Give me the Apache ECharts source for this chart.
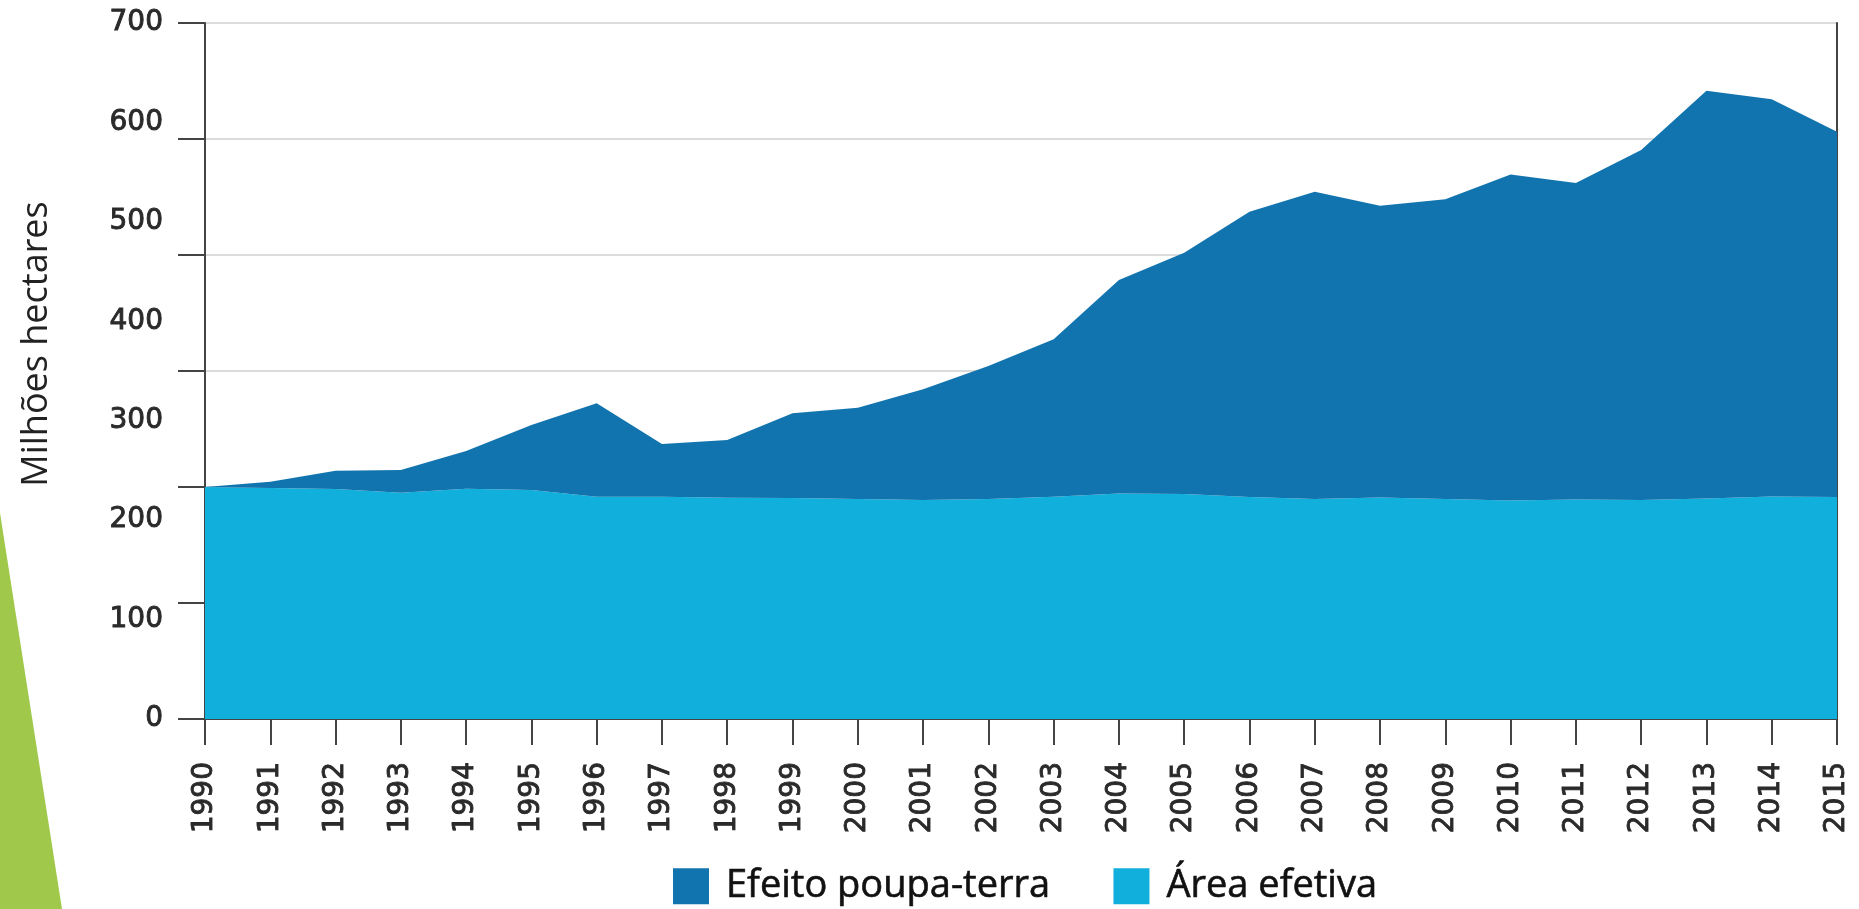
<!DOCTYPE html>
<html>
<head>
<meta charset="utf-8">
<script src="https://cdn.jsdelivr.net/npm/echarts@6/dist/echarts.min.js"></script>
<style>
* {
  margin: 0;
  padding: 0;
}
#chart-container {
  width: 1859px;
  height: 909px;
  background: #fff;
}
</style>
</head>
<body>
<div id="chart-container"></div>
<script>
// anos
const years = ['1990', '1991', '1992', '1993', '1994', '1995', '1996', '1997', '1998', '1999',
  '2000', '2001', '2002', '2003', '2004', '2005', '2006', '2007', '2008', '2009',
  '2010', '2011', '2012', '2013', '2014', '2015']

// área efetiva (camada de baixo)
const areaEfetiva = [200.0, 199.1, 198.3, 195.1, 198.5, 197.4, 191.6, 191.6, 190.8, 190.5,
  189.7, 188.8, 189.7, 191.6, 194.4, 194.0, 191.4, 189.7, 190.9, 189.7,
  188.4, 189.2, 188.8, 190.1, 191.8, 191.4]

// efeito poupa-terra (empilhado em cima)
const efeitoPoupaTerra = [0.0, 5.5, 15.8, 19.6, 32.5, 56.0, 80.6, 45.5, 49.7, 73.0,
  78.7, 95.4, 114.6, 135.7, 184.0, 208.0, 245.9, 264.9, 251.6, 258.3,
  281.0, 272.9, 301.7, 351.5, 342.4, 314.9]

// rótulos do eixo y (como na figura original)
const yLabels = ['0', '100', '200', '300', '400', '500', '600', '700']

const chartDom = document.getElementById('chart-container')
const myChart = echarts.init(chartDom)

const axisColor = '#444'
const labelFont = {
  fontFamily: 'DejaVu Sans',
  fontSize: 28,
  color: '#2a2a2a',
  // engrossa um pouco o traço dos números
  textBorderColor: '#2a2a2a',
  textBorderWidth: 0.9
}

const option = {
  animation: false,
  graphic: [
    {
      type: 'polygon',
      shape: { points: [[0, 513], [62, 909], [0, 909]] },
      style: { fill: '#a0c94b' },
      z: 0
    },
    {
      type: 'text',
      x: 37,
      y: 344,
      rotation: Math.PI / 2,
      style: {
        text: 'Milhões hectares',
        fontFamily: 'Open Sans',
        fontSize: 36,
        fill: '#222',
        textAlign: 'center',
        textVerticalAlign: 'middle'
      }
    }
  ],
  legend: {
    left: 673,
    top: 867,
    padding: 0,
    itemWidth: 36,
    itemHeight: 36,
    itemGap: 63,
    icon: 'rect',
    data: ['Efeito poupa-terra', 'Área efetiva'],
    textStyle: {
      fontFamily: 'Open Sans',
      fontSize: 38,
      color: '#111',
      textBorderColor: '#111',
      textBorderWidth: 0.6,
      padding: [0, 0, 0, 12]
    }
  },
  grid: {
    left: 205,
    right: 22,
    top: 23,
    bottom: 190
  },
  xAxis: {
    type: 'category',
    data: years,
    boundaryGap: false,
    axisLine: { lineStyle: { color: axisColor, width: 2 } },
    axisTick: { show: true, length: 26, interval: 0, lineStyle: { color: axisColor, width: 2 } },
    axisLabel: Object.assign({ interval: 0, rotate: 90, margin: 43 }, labelFont),
    splitLine: { show: false }
  },
  yAxis: [
    {
      // eixo com marcas e linhas de grade
      type: 'value',
      min: 0,
      max: 600,
      interval: 100,
      position: 'left',
      axisLine: { show: true, lineStyle: { color: axisColor, width: 2 } },
      axisTick: { show: true, length: 27, lineStyle: { color: axisColor, width: 2 } },
      axisLabel: { show: false },
      splitLine: { show: true, lineStyle: { color: '#cfcfcf', width: 1.5 } }
    },
    {
      // eixo só com rótulos
      type: 'value',
      min: 0,
      max: 700,
      interval: 100,
      position: 'left',
      axisLine: { show: false },
      axisTick: { show: false },
      splitLine: { show: false },
      axisLabel: Object.assign({
        margin: 42,
        formatter: (v) => yLabels[Math.round(v / 100)]
      }, labelFont)
    },
    {
      // borda direita
      type: 'value',
      min: 0,
      max: 600,
      position: 'right',
      axisLine: { show: true, lineStyle: { color: axisColor, width: 2 } },
      axisTick: { show: false },
      axisLabel: { show: false },
      splitLine: { show: false }
    }
  ],
  series: [
    {
      name: 'Área efetiva',
      type: 'line',
      stack: 'total',
      data: areaEfetiva,
      showSymbol: false,
      lineStyle: { width: 0 },
      areaStyle: { color: '#10afdc', opacity: 1 },
      itemStyle: { color: '#10afdc' },
      z: 2
    },
    {
      name: 'Efeito poupa-terra',
      type: 'line',
      stack: 'total',
      data: efeitoPoupaTerra,
      showSymbol: false,
      lineStyle: { width: 0 },
      areaStyle: { color: '#1274ae', opacity: 1 },
      itemStyle: { color: '#1274ae' },
      z: 2
    }
  ]
}

myChart.setOption(option)
</script>
</body>
</html>
